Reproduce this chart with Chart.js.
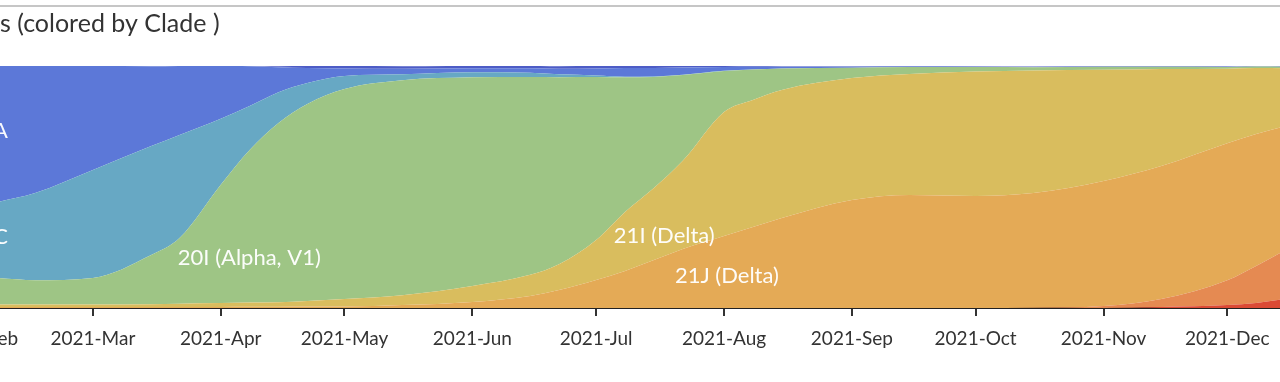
<!DOCTYPE html>
<html>
<head>
<meta charset="utf-8">
<script src="https://cdn.jsdelivr.net/npm/chart.js@4.4.1/dist/chart.umd.min.js"></script>
<style>
html,body{margin:0;padding:0;background:#fff;overflow:hidden;width:1280px;height:382px;}
#wrap{position:absolute;left:-100px;top:0;width:1395px;height:382px;}
</style>
</head>
<body>
<div id="wrap"><canvas id="c" width="1395" height="382"></canvas></div>
<script>
// ---- data (day of year 2021, Jan 1 = 0) ----
const days = [36,45,59,73,80,90,97,104,111,120,134,151,165,172,181,188,195,202,212,219,226,243,257,273,287,304,318,334,341,348];

const tickDays = [31,59,90,120,151,181,212,243,273,304,334];
const tickLabels = ['2021-Feb','2021-Mar','2021-Apr','2021-May','2021-Jun','2021-Jul','2021-Aug','2021-Sep','2021-Oct','2021-Nov','2021-Dec'];

// frequencies in percent, stacked bottom -> top
const clade21L = [0,0,0,0,0,0,0,0,0,0,0,0,0,0,0,0,0,0,0,0,0,0,0,0,0,0,0.4,1.2,2.1,3.7];
const clade21K = [0,0,0,0,0,0,0,0,0,0,0,0,0,0,0,0,0,0,0,0,0,0,0,0,0.1,0.8,3.3,10.3,15.3,20.2];
const clade21J = [0.4,0.4,0.4,0.4,0.4,0.4,0.5,0.5,0.6,0.6,1.2,2.5,5.0,7.4,11.6,15.3,19.8,24.4,29.8,33.5,37.2,44.6,46.7,46.3,47.4,51.7,55.0,56.6,54.5,51.2];
const clade21I = [1.0,1.0,1.0,1.2,1.4,1.7,1.8,1.9,2.3,3.1,4.1,6.6,8.7,10.7,16.5,24.4,29.8,36.4,51.2,52.5,52.9,50.4,50.0,51.4,50.6,45.9,40.1,30.8,27.3,24.0];
const clade20I = [11.0,10.1,11.0,20.2,27.1,48.8,63.0,74.0,81.4,86.8,88.8,86.2,81.8,77.3,67.4,55.6,45.9,35.5,16.9,12.6,8.9,4.3,2.9,1.9,1.4,1.3,0.9,0.7,0.6,0.6];
const clade20C = [31.4,36.0,44.6,45.0,42.6,27.3,18.2,12.8,8.7,5.4,2.5,2.1,1.7,1.2,0.6,0.3,0.2,0.1,0.1,0,0,0,0,0,0,0,0,0,0,0];
const clade20A = [56.2,52.5,43.0,33.1,28.5,21.9,16.4,10.3,6.2,3.1,2.3,1.7,1.9,2.3,2.9,3.6,3.5,3.0,1.6,1.1,0.7,0.4,0.2,0.1,0.1,0.1,0.1,0.1,0.1,0.1];
const cladeOther = [0,0,0,0,0,0,0.1,0.4,0.8,1.0,1.0,1.0,1.0,1.0,1.0,0.8,0.8,0.6,0.4,0.3,0.2,0.2,0.2,0.2,0.2,0.2,0.2,0.2,0.2,0.2];

const seriesNames = ['21L (Omicron)','21K (Omicron)','21J (Delta)','21I (Delta)','20I (Alpha, V1)','20C','20A','other'];
const seriesValues = [clade21L,clade21K,clade21J,clade21I,clade20I,clade20C,clade20A,cladeOther];
const seriesColors = ['#db4a35','#e58a52','#e4aa56','#d9bd5e','#9ec585','#67a8c4','#5c78d8','#4d5cc6'];

// in-chart labels: text, day, percent height
const labelTexts = ['20A','20C','20I (Alpha, V1)','21I (Delta)','21J (Delta)'];
const labelDays  = [38.4,38.4,79.6,185.3,200.1];
const labelPcts  = [73.1,29.3,20.7,29.8,13.2];
const labelAlign = ['right','right','left','left','left'];

const titleText = 'Frequencies (colored by Clade )';

const datasets = seriesValues.map((vals,i)=>({
  label: seriesNames[i],
  data: vals.map((v,j)=>({x:days[j], y:v})),
  backgroundColor: seriesColors[i],
  borderColor: seriesColors[i],
  borderWidth: 0,
  pointRadius: 0,
  fill: i===0 ? 'origin' : '-1',
  cubicInterpolationMode: 'monotone'
}));

const decor = {
  id:'decor',
  beforeDraw(chart){
    const ctx = chart.ctx;
    ctx.save();
    ctx.fillStyle='#fff';
    ctx.fillRect(0,0,chart.width,chart.height);
    ctx.strokeStyle='#c6c6c6';
    ctx.lineWidth=2;
    ctx.beginPath(); ctx.moveTo(0,6); ctx.lineTo(chart.width,6); ctx.stroke();
    ctx.font='25px Lato';
    ctx.fillStyle='#333';
    ctx.textBaseline='alphabetic';
    const pre = ctx.measureText('Frequencie').width;
    ctx.fillText(titleText, 100 - pre, 32);
    ctx.restore();
  },
  afterDatasetsDraw(chart){
    const ctx = chart.ctx, xs = chart.scales.x, ys = chart.scales.y;
    ctx.save();
    ctx.font='22px Lato';
    ctx.fillStyle='rgba(255,255,255,0.96)';
    ctx.textBaseline='middle';
    labelTexts.forEach((t,i)=>{
      ctx.textAlign = labelAlign[i];
      ctx.fillText(t, xs.getPixelForValue(labelDays[i]), ys.getPixelForValue(labelPcts[i]));
    });
    ctx.restore();
  }
};

new Chart(document.getElementById('c'), {
  type:'line',
  data:{datasets},
  plugins:[decor],
  options:{
    responsive:false,
    animation:false,
    layout:{padding:{left:65,right:10,top:66,bottom:0}},
    plugins:{legend:{display:false},tooltip:{enabled:false},title:{display:false}},
    elements:{line:{tension:0}},
    scales:{
      x:{
        type:'linear', min:28, max:348, z:1,
        grid:{display:true, drawOnChartArea:false, drawTicks:true, tickLength:8, color:'#333', lineWidth:2},
        border:{display:true, color:'#222', width:2},
        ticks:{autoSkip:false, maxRotation:0, minRotation:0, padding:11, color:'#333',
               font:{family:'Lato', size:19},
               callback:(v)=>{const k=tickDays.indexOf(v); return k>=0?tickLabels[k]:'';}},
        afterBuildTicks:(s)=>{ s.ticks = tickDays.map(v=>({value:v})); },
        afterFit:(s)=>{ s.paddingLeft=0; s.paddingRight=0; s.height=74; }
      },
      y:{type:'linear', display:false, stacked:true, min:0, max:100}
    }
  }
});
</script>
</body>
</html>
